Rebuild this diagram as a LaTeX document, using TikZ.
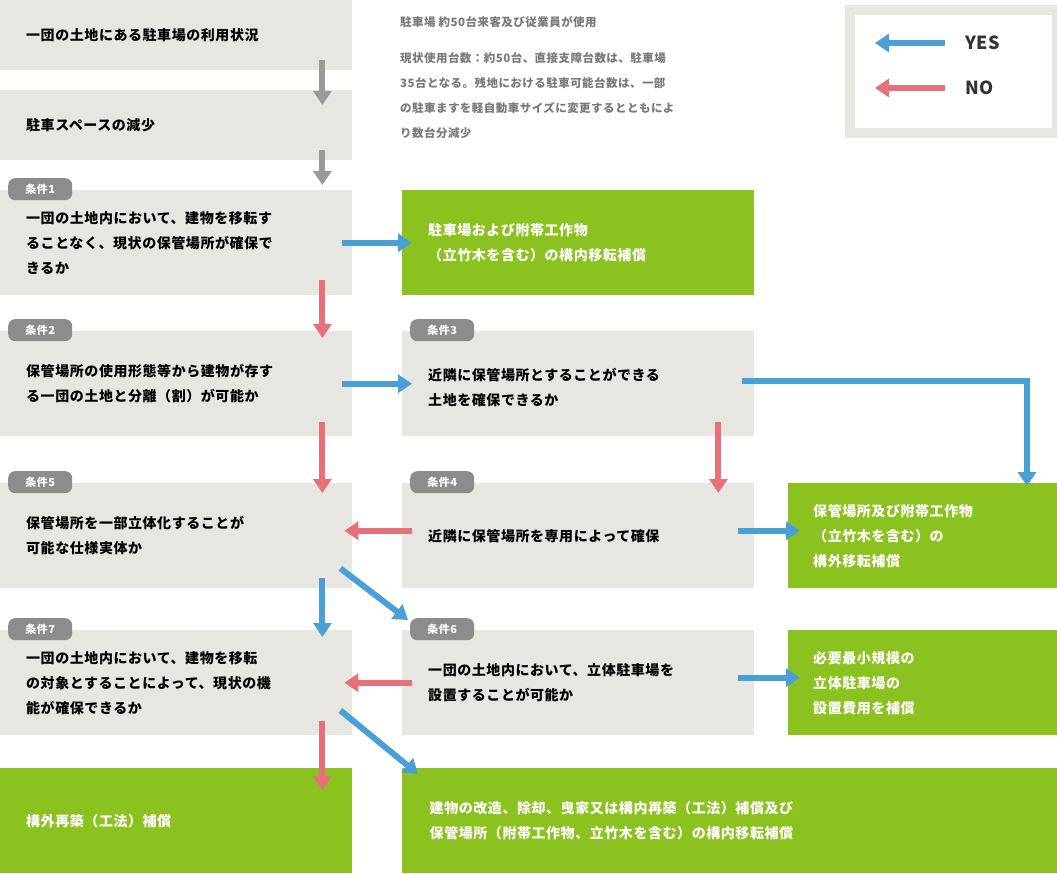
\documentclass[tikz,border=0pt]{standalone}
\usepackage{fontspec}
\setmainfont[LetterSpace=4]{Noto Sans CJK JP}
\usetikzlibrary{arrows.meta}
\definecolor{boxgray}{HTML}{E8E6E1}
\definecolor{taggray}{HTML}{8C8C8C}
\definecolor{arrgray}{HTML}{9A9A9A}
\definecolor{yesblue}{HTML}{4A9FD5}
\definecolor{nored}{HTML}{E8707A}
\definecolor{okgreen}{HTML}{8CC21F}
\definecolor{notegray}{HTML}{7A7A7A}
\tikzset{
  box/.style={fill=boxgray, anchor=north west, minimum width=352, minimum height=105,
    inner xsep=25, align=left, font=\fontsize{14}{25}\selectfont\bfseries},
  goal/.style={box, fill=okgreen, text=white},
  tag/.style={fill=taggray, text=white, rounded corners=7, anchor=north west,
    minimum width=64, minimum height=22, inner sep=0, font=\fontsize{11}{11}\selectfont\bfseries},
  flow/.style={line width=6, -{Triangle[length=14,width=18]}},
  yes/.style={flow, yesblue},
  no/.style={flow, nored},
  plain/.style={flow, arrgray}
}
\begin{document}
\begin{tikzpicture}[x=1pt,y=-1pt]
  \useasboundingbox (0,0) rectangle (1057,874);

  % left column
  \node (lot) [box, minimum height=70, text width=300] at (0,0) {一団の土地にある駐車場の利用状況};
  \node (less) [box, minimum height=70, text width=300] at (0,90) {駐車スペースの減少};
  \node (c1) [box, text width=300] at (0,190) {一団の土地内において、建物を移転す\\ることなく、現状の保管場所が確保で\\きるか};
  \node (c2) [box, text width=300] at (0,331) {保管場所の使用形態等から建物が存す\\る一団の土地と分離（割）が可能か};
  \node (c5) [box, text width=300] at (0,483) {保管場所を一部立体化することが\\可能な仕様実体か};
  \node (c7) [box, text width=300] at (0,630) {一団の土地内において、建物を移転\\の対象とすることによって、現状の機\\能が確保できるか};
  \node (g4) [goal, text width=300] at (0,768) {構外再築（工法）補償};

  % middle column
  \node (g1) [goal, text width=300] at (402,190) {駐車場および附帯工作物\\（立竹木を含む）の構内移転補償};
  \node (c3) [box, text width=300, text depth=18] at (402,331) {近隣に保管場所とすることができる\\土地を確保できるか};
  \node (c4) [box, text width=300] at (402,483) {近隣に保管場所を専用によって確保};
  \node (c6) [box, text width=300] at (402,630) {一団の土地内において、立体駐車場を\\設置することが可能か};
  \node (g5) [goal, minimum width=655, text width=600] at (402,768) {建物の改造、除却、曳家又は構内再築（工法）補償及び\\保管場所（附帯工作物、立竹木を含む）の構内移転補償};

  % right column
  \node (g2) [goal, minimum width=269, text width=230] at (788,483) {保管場所及び附帯工作物\\（立竹木を含む）の\\構外移転補償};
  \node (g3) [goal, minimum width=269, text width=230] at (788,630) {必要最小規模の\\立体駐車場の\\設置費用を補償};

  % tags
  \foreach \n/\y in {1/178, 2/319, 5/471, 7/618}
    \node (t\n) [tag] at (8,\y) {条件\n};
  \foreach \n/\y in {3/319, 4/471, 6/618}
    \node (t\n) [tag] at (410,\y) {条件\n};

  % notes
  \node (note1) [anchor=west, inner sep=0, text=notegray, font=\fontsize{11.5}{25}\selectfont\bfseries] at (400,22)
    {駐車場 約50台来客及び従業員が使用};
  \node (note2) [anchor=north west, inner sep=0, align=left, text=notegray,
    font=\fontsize{11.5}{25}\selectfont\bfseries] at (400,52)
    {現状使用台数：約50台、直接支障台数は、駐車場\\35台となる。残地における駐車可能台数は、一部\\の駐車ますを軽自動車サイズに変更するとともによ\\り数台分減少};

  % legend
  \node (legend) [draw=boxgray, line width=10, anchor=north west, minimum width=207,
    minimum height=123, inner sep=0] at (845,5) {};
  \coordinate (ly1) at (945,43);
  \coordinate (ly2) at (875,43);
  \coordinate (ln1) at (945,88);
  \coordinate (ln2) at (875,88);
  \draw[yes] (ly1) -- (ly2);
  \draw[no] (ln1) -- (ln2);
  \node (lyes) [anchor=west, inner sep=0, text=black!80, font=\fontsize{18}{18}\selectfont\bfseries] at (965,43) {YES};
  \node (lno) [anchor=west, inner sep=0, text=black!80, font=\fontsize{18}{18}\selectfont\bfseries] at (965,88) {NO};

  % arrows
  \draw[plain] ([xshift=-30,yshift=10]lot.south east) -- ([xshift=-30,yshift=-15]less.north east);
  \draw[plain] ([xshift=-30,yshift=10]less.south east) -- ([xshift=-30,yshift=5]c1.north east);
  \draw[yes] ([xshift=-10]c1.east) -- ([xshift=10]g1.west);
  \draw[no] ([xshift=-30,yshift=15]c1.south east) -- ([xshift=-30,yshift=-7]c2.north east);
  \draw[yes] ([xshift=-10]c2.east) -- ([xshift=10]c3.west);
  \draw[yes] ([xshift=-12,yshift=3]c3.east) -| ([xshift=239,yshift=-3]g2.north west);
  \draw[no] ([xshift=-36,yshift=14]c3.south east) -- ([xshift=-36,yshift=-10]c4.north east);
  \draw[no] ([xshift=-30,yshift=14]c2.south east) -- ([xshift=-30,yshift=-10]c5.north east);
  \draw[no] ([xshift=10,yshift=5]c4.west) -- ([xshift=-8,yshift=5]c5.east);
  \draw[yes] ([xshift=-16,yshift=5]c4.east) -- ([xshift=12,yshift=5]g2.west);
  \draw[yes] ([xshift=-30,yshift=10]c5.south east) -- ([xshift=-30,yshift=-7]c7.north east);
  \draw[yes] ([xshift=-12,yshift=20]c5.south east) -- ([xshift=6,yshift=10]c6.north west);
  \draw[no] ([xshift=10]c6.west) -- ([xshift=-8]c7.east);
  \draw[yes] ([xshift=-16,yshift=5]c6.east) -- ([xshift=12,yshift=5]g3.west);
  \draw[no] ([xshift=-30,yshift=14]c7.south east) -- ([xshift=-30,yshift=-22]g4.north east);
  \draw[yes] ([xshift=-12,yshift=25]c7.south east) -- ([xshift=16,yshift=-6]g5.north west);
\end{tikzpicture}
\end{document}
